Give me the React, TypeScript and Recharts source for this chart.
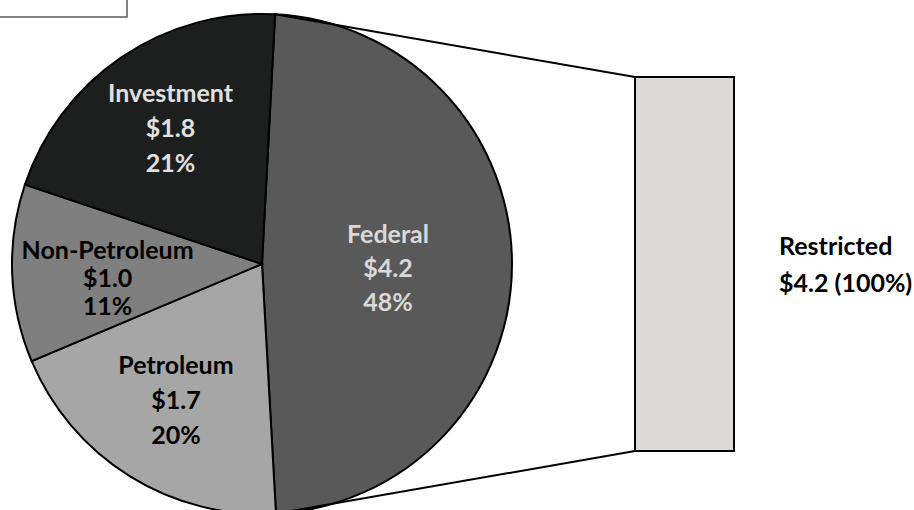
import React from 'react';
import { PieChart, Pie, Cell, BarChart, Bar, XAxis, YAxis } from 'recharts';

// ---- data ----
const sliceNames = ['Federal', 'Petroleum', 'Non-Petroleum', 'Investment'];
const sliceValues = [4.2, 1.7, 1.0, 1.8];
const barNames = ['Restricted'];
const barValues = [4.2];

// ---- layout / style ----
const W = 914;
const H = 510;
const CX = 262;
const CY = 264;
const R = 250;
const START = 87;
const BAR_L = 635;
const BAR_R = 734;
const BAR_T = 77;
const BAR_B = 451;

const FILLS = ['#595959', '#a6a6a6', '#7f7f7f', '#1d1f1f'];
const TEXT = ['#d9d9d9', '#000000', '#000000', '#e0e0e0'];
const LABEL_POS = [
  { f: 0.504, dx: 0, dy: 4, lh: 34 },
  { f: 0.65, dx: 0, dy: -2, lh: 35 },
  { f: 0.65, dx: 8, dy: 8, lh: 28 },
  { f: 0.65, dx: 0, dy: -2, lh: 35 },
];
const FONT = 'Lato, "Open Sans", sans-serif';
const FS = 25;

const pieData = sliceNames.map((n, i) => ({ name: n, value: sliceValues[i] }));
const barData = barNames.map((n, i) => ({ name: n, value: barValues[i] }));
const total = sliceValues.reduce((a, b) => a + b, 0);
const barTotal = barValues.reduce((a, b) => a + b, 0);

const RAD = Math.PI / 180;

const renderPieLabel = (p: any) => {
  const i = p.index;
  const pos = LABEL_POS[i];
  const x = p.cx + p.outerRadius * pos.f * Math.cos(-p.midAngle * RAD) + pos.dx;
  const y = p.cy + p.outerRadius * pos.f * Math.sin(-p.midAngle * RAD) + pos.dy;
  const pct = Math.round((p.value / total) * 100);
  const lines = [p.name, `$${Number(p.value).toFixed(1)}`, `${pct}%`];
  return (
    <text
      key={`lbl-${i}`}
      textAnchor="middle"
      fill={TEXT[i]}
      fontFamily={FONT}
      fontWeight={700}
      fontSize={FS}
    >
      {lines.map((t, k) => (
        <tspan key={k} x={x} y={y + (k - 1) * pos.lh + 9}>
          {t}
        </tspan>
      ))}
    </text>
  );
};

const renderBarLabel = (p: any) => {
  const x = p.x + p.width + 45;
  const cy = p.y + p.height / 2;
  const pct = Math.round((p.value / barTotal) * 100);
  const lines = [barNames[p.index ?? 0], `$${Number(p.value).toFixed(1)} (${pct}%)`];
  return (
    <text fill="#000" fontFamily={FONT} fontWeight={700} fontSize={FS} textAnchor="start">
      {lines.map((t, k) => (
        <tspan key={k} x={x} y={cy + (k - 0.5) * 37 + 9}>
          {t}
        </tspan>
      ))}
    </text>
  );
};

export default function App() {
  const fedEnd = START - (360 * sliceValues[0]) / total;
  const topX = CX + R * Math.cos(START * RAD);
  const topY = CY - R * Math.sin(START * RAD);
  const botX = CX + R * Math.cos(fedEnd * RAD);
  const botY = CY - R * Math.sin(fedEnd * RAD);

  return (
    <div style={{ position: 'absolute', left: 0, top: 0, width: W, height: H, background: '#fff', overflow: 'hidden' }}>
      <div style={{ position: 'absolute', left: 0, top: 0 }}>
        <PieChart width={W} height={H} margin={{ top: 0, right: 0, bottom: 0, left: 0 }}>
          <Pie
            data={pieData}
            dataKey="value"
            nameKey="name"
            cx={CX}
            cy={CY}
            outerRadius={R}
            startAngle={START}
            endAngle={START - 360}
            stroke="#000"
            strokeWidth={2}
            label={renderPieLabel}
            labelLine={false}
            isAnimationActive={false}
          >
            {pieData.map((d, i) => (
              <Cell key={d.name} fill={FILLS[i]} stroke="#000" strokeWidth={2} />
            ))}
          </Pie>
        </PieChart>
      </div>
      <div style={{ position: 'absolute', left: 0, top: 0 }}>
        <BarChart
          width={W}
          height={H}
          data={barData}
          margin={{ top: BAR_T, bottom: H - BAR_B, left: BAR_L, right: W - BAR_R }}
          barCategoryGap={0}
        >
          <XAxis dataKey="name" hide />
          <YAxis hide domain={[0, barTotal]} />
          <Bar
            dataKey="value"
            fill="#dbdad9"
            stroke="#000"
            strokeWidth={2}
            isAnimationActive={false}
            label={renderBarLabel}
          />
        </BarChart>
      </div>
      <svg width={W} height={H} style={{ position: 'absolute', left: 0, top: 0, pointerEvents: 'none' }}>
        <line x1={topX} y1={topY} x2={BAR_L} y2={BAR_T} stroke="#000" strokeWidth={2} />
        <line x1={botX} y1={botY} x2={BAR_L} y2={BAR_B} stroke="#000" strokeWidth={2} />
        <rect x={-2} y={-2} width={129} height={19} fill="none" stroke="#595959" strokeWidth={1.5} />
      </svg>
    </div>
  );
}
